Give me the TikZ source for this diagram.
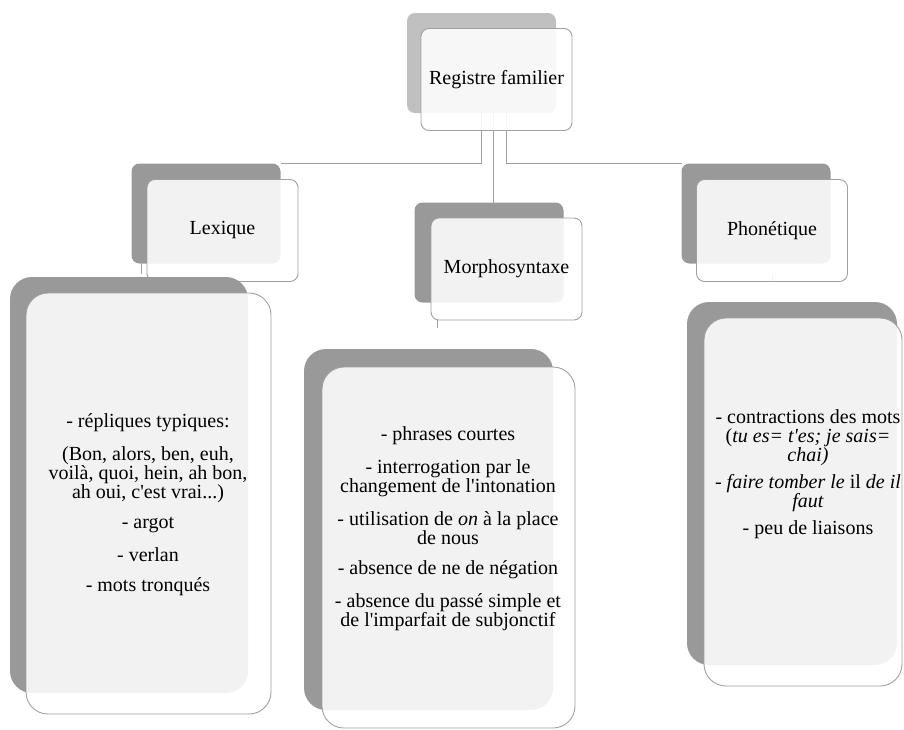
\documentclass[tikz,border=0pt]{standalone}
\usepackage{fontspec}
\setmainfont{Liberation Serif}[Ligatures=TeXOff]
\usetikzlibrary{backgrounds}

\definecolor{cardback}{RGB}{153,153,153}
\definecolor{topback}{RGB}{192,192,192}
\definecolor{cardline}{RGB}{160,160,160}

\begin{document}
\begin{tikzpicture}[x=1pt, y=-1pt,
every node/.style = {inner sep=0pt, outer sep=0pt},
back/.style     = {fill=cardback, rounded corners=#1},
back/.default   = 8pt,
card/.style     = {draw=cardline, line width=0.9pt, fill=white,
                   fill opacity=0.88, text opacity=1, rounded corners=#1},
card/.default   = 8pt,
head/.style     = {minimum width=151pt, minimum height=102pt,
                   font=\fontsize{20}{22}\selectfont},
headback/.style = {minimum width=149pt, minimum height=100pt},
body/.style     = {align=center, font=\fontsize{20}{16.5}\selectfont},
link/.style     = {draw=cardline, line width=1.4pt}
                    ]
\useasboundingbox (0,0) rectangle (904,729);

% titles
\node (regB) [back, headback, fill=topback] at (481.5,63)    {};
\node (reg)  [card, head]                   at (496.5,79.5)  {Registre familier};
\node (lexB) [back, headback]               at (206,213.5)   {};
\node (lex)  [card, head]                   at (222.5,230.5) {Lexique};
\node (morB) [back, headback]               at (489,252.5)   {};
\node (mor)  [card, head]                   at (506.5,269)   {Morphosyntaxe};
\node (phoB) [back, headback]               at (756,213.5)   {};
\node (pho)  [card, head]                   at (772,230.5)   {Phonétique};

% lists
\node (lexDB) [back=22pt, minimum width=238pt, minimum height=416pt] at (129,485)     {};
\node (lexD)  [card=22pt, minimum width=245pt, minimum height=421pt] at (148.5,503.5) {};
\node (morDB) [back=22pt, minimum width=249pt, minimum height=361pt] at (428.5,529.5) {};
\node (morD)  [card=22pt, minimum width=253pt, minimum height=361pt] at (448.5,547.5) {};
\node (phoDB) [back=22pt, minimum width=210pt, minimum height=363pt] at (792,483.5)   {};
\node (phoD)  [card=22pt, minimum width=198pt, minimum height=368pt] at (803,502)     {};

\node (lexT) [body] at (148,505) {- répliques typiques:\\[13.5pt]
  (Bon, alors, ben, euh,\\ voilà, quoi, hein, ah bon,\\ ah oui, c'est vrai...)\\[13.5pt]
  - argot\\[13.5pt] - verlan\\[13.5pt] - mots tronqués};
\node (morT) [body] at (448,529) {- phrases courtes\\[13.5pt]
  - interrogation par le\\ changement de l'intonation\\[13.5pt]
  - utilisation de \textit{on} à la place\\ de nous\\[13.5pt]
  - absence de ne de négation\\[13.5pt]
  - absence du passé simple et\\ de l'imparfait de subjonctif};
\node (phoT) [body, font=\fontsize{20}{19}\selectfont] at (808,474) {- contractions des mots\\
  (\textit{tu es= t'es; je sais=}\\ \textit{chai)}\\[8pt]
  - \textit{faire tomber le} il \textit{de il}\\ \textit{faut}\\[8pt]
  - peu de liaisons};

% links
\begin{scope}[on background layer]
\draw[link] ([xshift=-15pt]reg.center) |- (lexB.north east);
\draw[link] ([xshift=10pt]reg.center)  |- (phoB.north west);
\draw[link] ([xshift=-3pt]reg.center)  -- ([xshift=-3pt]reg.center |- morB.north);
\draw[link, line width=0.6pt] ([xshift=-65pt]lexB.south) -- ++(0,10);
\draw[link, line width=0.6pt] ([xshift=-69pt]mor.south)  -- ++(0,8);
\draw[link, line width=0.6pt] (pho.south) -- ++(0,-8);
\end{scope}
\end{tikzpicture}
\end{document}
